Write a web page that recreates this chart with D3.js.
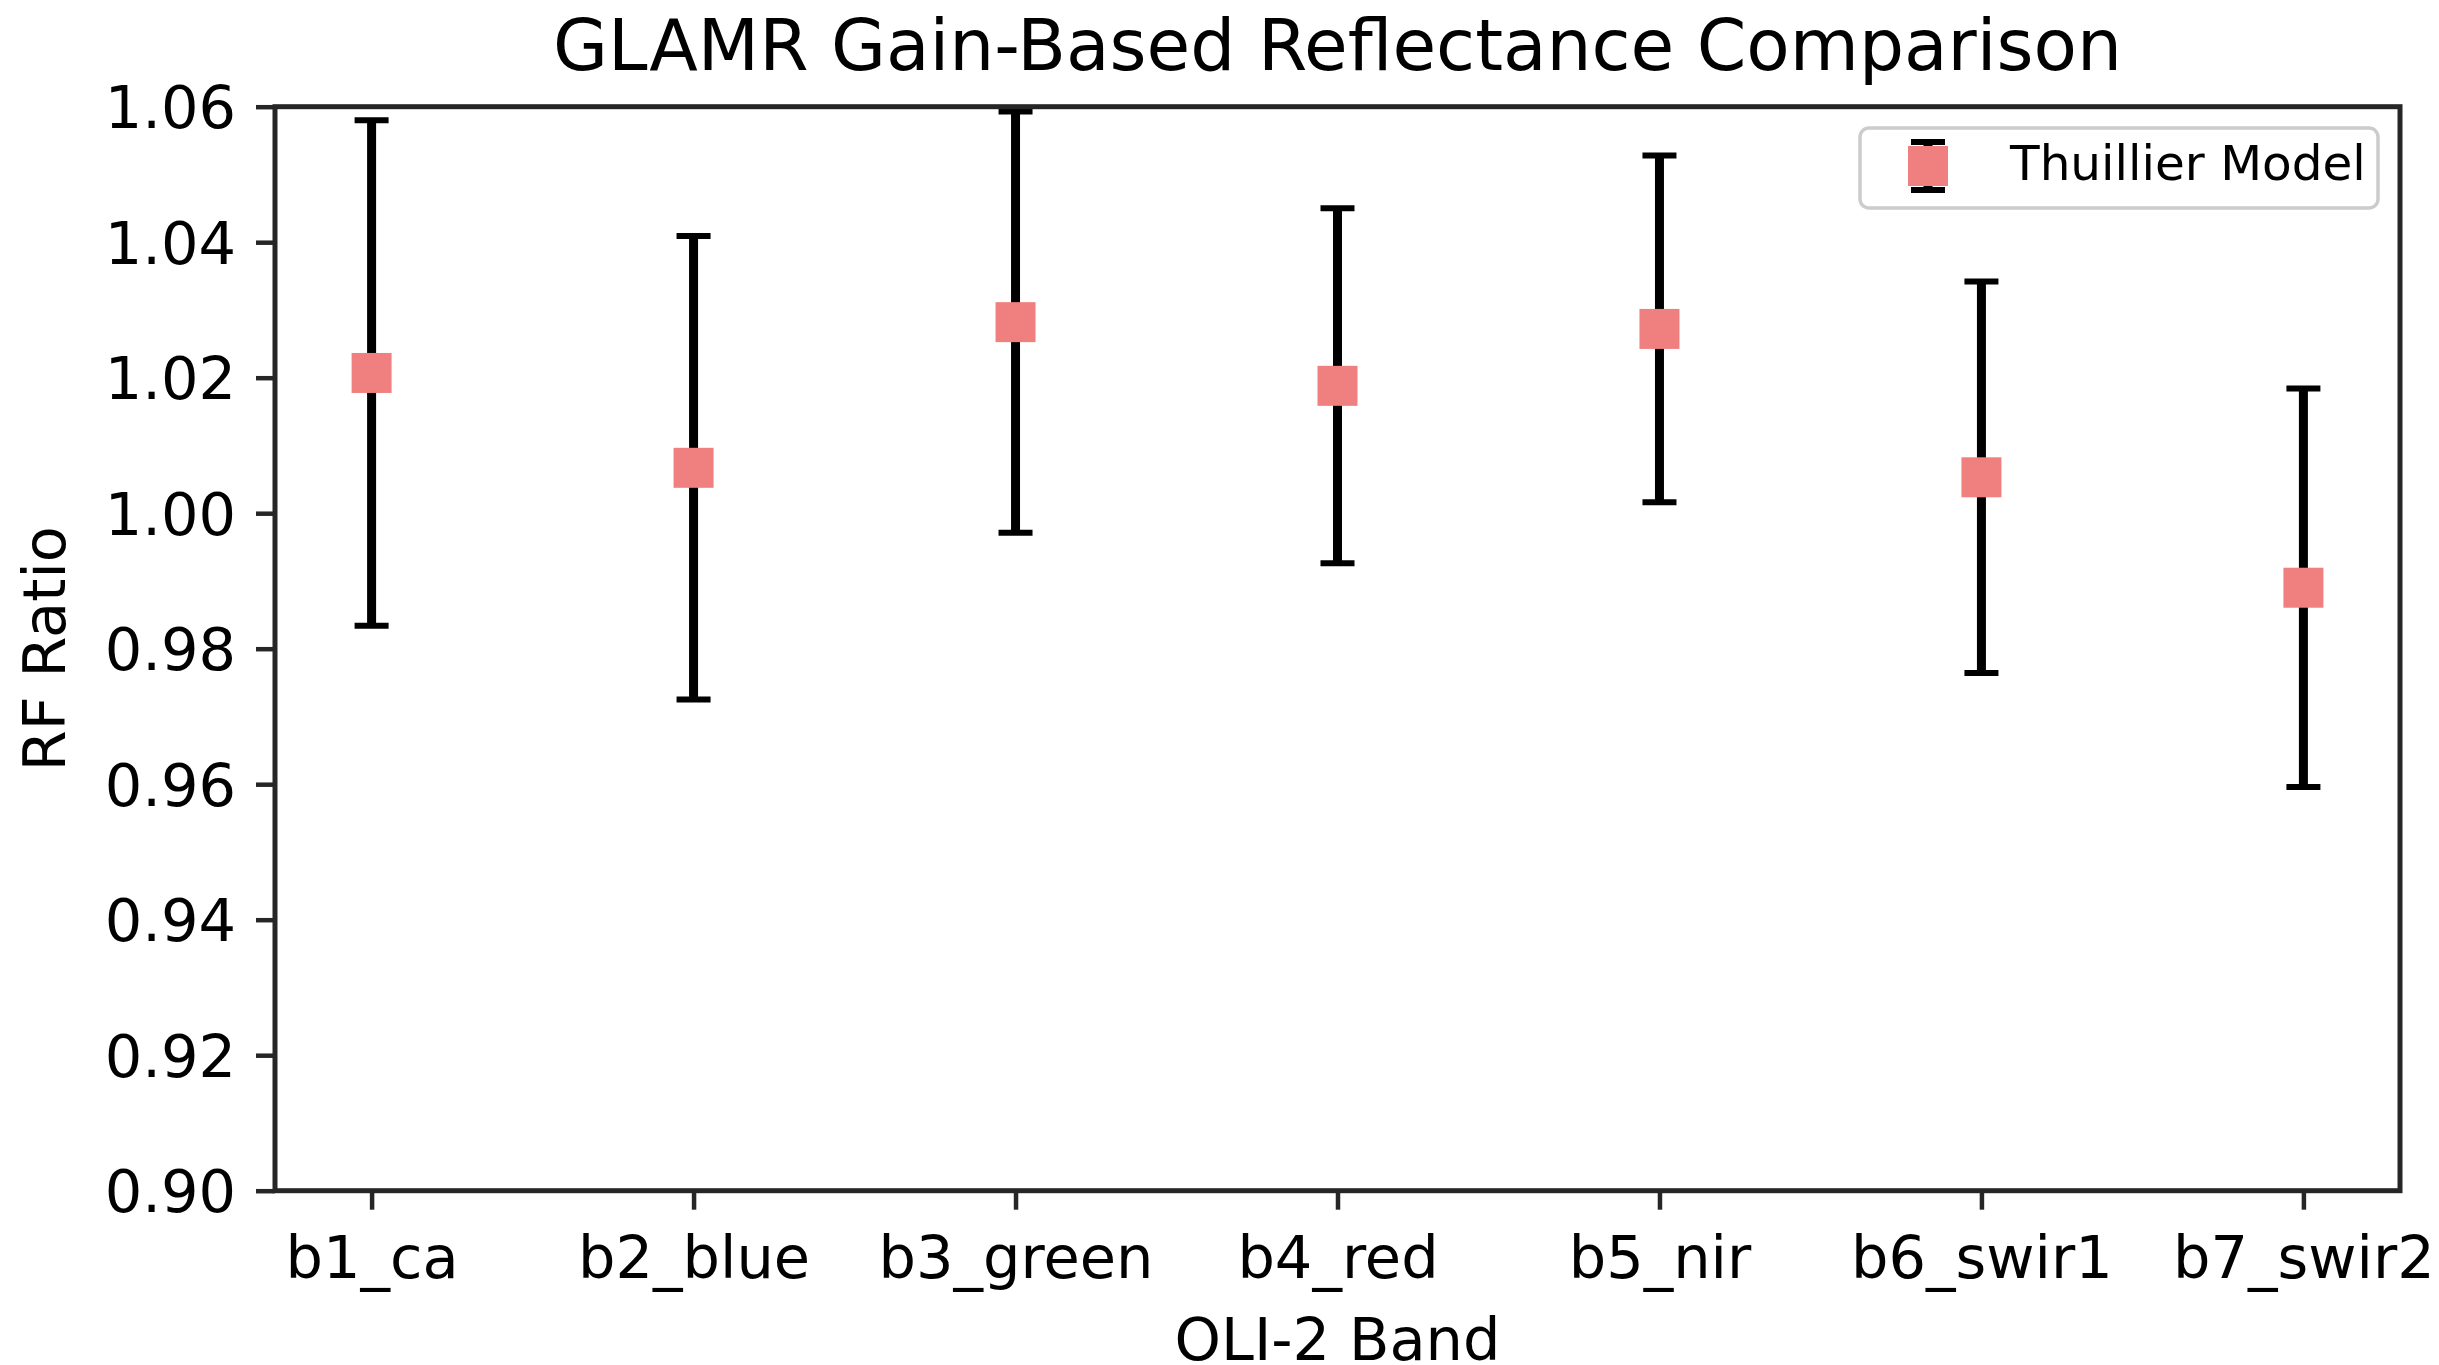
<!DOCTYPE html>
<html>
<head>
<meta charset="utf-8">
<script src="https://cdn.jsdelivr.net/npm/d3@7"></script>
<style>
  html, body { margin: 0; padding: 0; background: #ffffff; }
  svg { display: block; font-family: "DejaVu Sans", sans-serif; }
</style>
</head>
<body>
<svg id="chart" width="2439" height="1365"></svg>
<script>
// OLI-2 bands and the gain-based reflectance ratio (mean ± uncertainty)
const bands = ["b1_ca", "b2_blue", "b3_green", "b4_red", "b5_nir", "b6_swir1", "b7_swir2"];
const ratioMean = [1.0207, 1.0067, 1.0282, 1.0188, 1.0272, 1.0053, 0.9890];
const ratioErr  = [0.0373, 0.0342, 0.0311, 0.0262, 0.0256, 0.0289, 0.0294];
const yTicks = [0.90, 0.92, 0.94, 0.96, 0.98, 1.00, 1.02, 1.04, 1.06];
const seriesName = "Thuillier Model";

const svg = d3.select("#chart");
const W = 2439, H = 1365;
const plot = { left: 275, right: 2400, top: 106.7, bottom: 1190.7 };

const spineColor = "#262626";
const markerColor = "#f08080";
const tickFont = 59;

svg.append("rect").attr("width", W).attr("height", H).attr("fill", "#ffffff");

const x = d3.scaleLinear().domain([-0.3, bands.length - 0.7]).range([plot.left, plot.right]);
const y = d3.scaleLinear().domain([0.90, 1.06]).range([plot.bottom, plot.top]);

// Axes
const xAxis = d3.axisBottom(x)
  .tickValues(d3.range(bands.length))
  .tickFormat(i => bands[i])
  .tickSize(19).tickPadding(23);
const yAxis = d3.axisLeft(y)
  .tickValues(yTicks)
  .tickFormat(d3.format(".2f"))
  .tickSize(19).tickPadding(20);

const gx = svg.append("g").attr("transform", `translate(0,${plot.bottom})`).call(xAxis);
const gy = svg.append("g").attr("transform", `translate(${plot.left},0)`).call(yAxis);
[gx, gy].forEach(g => {
  g.select(".domain").remove();
  g.selectAll(".tick line").attr("stroke", spineColor).attr("stroke-width", 4.5);
  g.selectAll(".tick text")
    .attr("fill", "#000000")
    .style("font-size", tickFont + "px")
    .style("font-family", "DejaVu Sans");
});
gx.selectAll(".tick text").attr("dy", "0.76em");
gy.selectAll(".tick text").attr("dy", "0.36em");

// Error bars
const bars = svg.append("g");
const capHalf = 17;
bands.forEach((b, i) => {
  const cx = x(i);
  const lo = y(ratioMean[i] - ratioErr[i]);
  const hi = y(ratioMean[i] + ratioErr[i]);
  bars.append("line")
    .attr("x1", cx).attr("x2", cx).attr("y1", hi).attr("y2", lo)
    .attr("stroke", "#000000").attr("stroke-width", 9);
  [hi, lo].forEach(yy => {
    bars.append("line")
      .attr("x1", cx - capHalf).attr("x2", cx + capHalf).attr("y1", yy).attr("y2", yy)
      .attr("stroke", "#000000").attr("stroke-width", 6);
  });
});

// Square markers at the mean
const msize = 40;
svg.append("g").selectAll("rect")
  .data(ratioMean)
  .join("rect")
  .attr("x", (d, i) => x(i) - msize / 2)
  .attr("y", d => y(d) - msize / 2)
  .attr("width", msize).attr("height", msize)
  .attr("fill", markerColor);

// Frame
svg.append("rect")
  .attr("x", plot.left).attr("y", plot.top)
  .attr("width", plot.right - plot.left).attr("height", plot.bottom - plot.top)
  .attr("fill", "none").attr("stroke", spineColor).attr("stroke-width", 5);

// Title and axis labels
svg.append("text")
  .attr("x", (plot.left + plot.right) / 2).attr("y", 70)
  .attr("text-anchor", "middle")
  .style("font-size", "71px")
  .attr("fill", "#000000")
  .text("GLAMR Gain-Based Reflectance Comparison");

svg.append("text")
  .attr("x", (plot.left + plot.right) / 2).attr("y", 1360)
  .attr("text-anchor", "middle")
  .style("font-size", tickFont + "px")
  .attr("fill", "#000000")
  .text("OLI-2 Band");

svg.append("text")
  .attr("transform", `translate(65,${(plot.top + plot.bottom) / 2}) rotate(-90)`)
  .attr("text-anchor", "middle")
  .style("font-size", tickFont + "px")
  .attr("fill", "#000000")
  .text("RF Ratio");

// Legend
const leg = svg.append("g");
leg.append("rect")
  .attr("x", 1860).attr("y", 128).attr("width", 518).attr("height", 80)
  .attr("rx", 9).attr("ry", 9)
  .attr("fill", "#ffffff").attr("fill-opacity", 0.8)
  .attr("stroke", "#cccccc").attr("stroke-width", 3.5);
const lx = 1928, ly = 166;
leg.append("line").attr("x1", lx).attr("x2", lx).attr("y1", ly - 24).attr("y2", ly + 24)
  .attr("stroke", "#000000").attr("stroke-width", 9);
[ly - 24, ly + 24].forEach(yy => {
  leg.append("line").attr("x1", lx - capHalf).attr("x2", lx + capHalf).attr("y1", yy).attr("y2", yy)
    .attr("stroke", "#000000").attr("stroke-width", 6);
});
leg.append("rect").attr("x", lx - msize / 2).attr("y", ly - msize / 2)
  .attr("width", msize).attr("height", msize).attr("fill", markerColor);
leg.append("text")
  .attr("x", 2010).attr("y", 180)
  .style("font-size", "48.5px")
  .attr("fill", "#000000")
  .text(seriesName);
</script>
</body>
</html>
